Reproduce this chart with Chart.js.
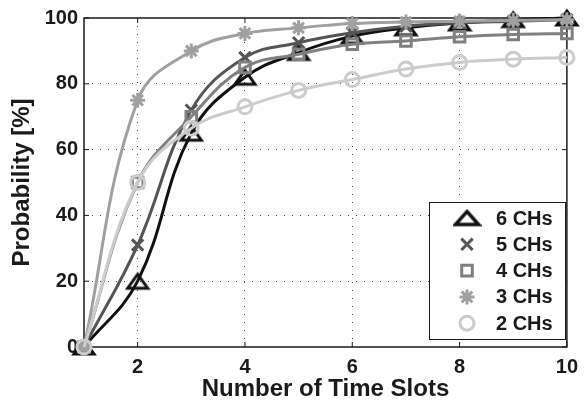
<!DOCTYPE html>
<html><head><meta charset="utf-8">
<script src="https://cdn.jsdelivr.net/npm/chart.js@4/dist/chart.umd.min.js"></script>
<style>html,body{margin:0;padding:0;background:#fff}canvas{display:block}</style>
</head><body>
<canvas id="c" width="586" height="405"></canvas>
<script>
// ---- data ----
const timeSlots = [1, 2, 3, 4, 5, 6, 7, 8, 9, 10];
const ch6 = [0, 20, 65, 82, 89.5, 94.5, 97, 98.5, 99.5, 100];
const ch5 = [0, 31, 72, 88, 92.5, 95.5, 97.5, 98.5, 99, 99.5];
const ch4 = [0, 50, 70, 85, 89, 92, 93, 94.3, 95, 95.3];
const ch3 = [0, 75, 90, 95.3, 97, 98.3, 98.8, 99, 99.3, 99.5];
const ch2 = [0, 50, 66.5, 73, 78, 81.3, 84.5, 86.5, 87.5, 88];
const seriesLabels = ['6 CHs', '5 CHs', '4 CHs', '3 CHs', '2 CHs'];
const xTicks = [2, 4, 6, 8, 10];
const yTicks = [0, 20, 40, 60, 80, 100];

const FONT = "'Liberation Sans', Arial, Helvetica, sans-serif";
const TXT = '#1a1a1a';

function makeTriangle(w, h, color, lw) {
  const pad = 3;
  const c = document.createElement('canvas');
  c.width = w + 2 * pad; c.height = h + 2 * pad;
  const g = c.getContext('2d');
  g.strokeStyle = color; g.lineWidth = lw; g.lineJoin = 'miter';
  g.beginPath();
  g.moveTo(pad + w / 2, pad);
  g.lineTo(pad + w, pad + h);
  g.lineTo(pad, pad + h);
  g.closePath();
  g.stroke();
  return c;
}
const triChart = makeTriangle(20, 14, '#111', 3);
const triLegend = makeTriangle(23, 13, '#111', 3.4);

const styles = [
  {color: '#111111', pointStyle: triChart, radius: 10, legendStyle: triLegend},
  {color: '#555555', pointStyle: 'crossRot', radius: 8},
  {color: '#808080', pointStyle: 'rect', radius: 7.5},
  {color: '#a0a0a0', pointStyle: 'star', radius: 7.5},
  {color: '#cccccc', pointStyle: 'circle', radius: 7}
];
const seriesData = [ch6, ch5, ch4, ch3, ch2];

const datasets = seriesData.map((d, i) => ({
  label: seriesLabels[i],
  data: d,
  borderColor: styles[i].color,
  backgroundColor: 'rgba(0,0,0,0)',
  borderWidth: 3,
  tension: 0.4,
  pointStyle: styles[i].pointStyle,
  pointRadius: styles[i].radius,
  pointBorderWidth: 3,
  pointBorderColor: styles[i].color,
  pointBackgroundColor: 'rgba(0,0,0,0)',
  clip: false,
  order: 4 - i
}));

const boxPlugin = {
  id: 'box',
  beforeDatasetsDraw(chart) {
    const {ctx, chartArea: a, scales: {x, y}} = chart;
    ctx.save();
    ctx.strokeStyle = TXT;
    ctx.lineWidth = 1.5;
    ctx.strokeRect(a.left, a.top, a.right - a.left, a.bottom - a.top);
    ctx.lineWidth = 1;
    ctx.beginPath();
    xTicks.forEach(v => {
      const px = x.getPixelForValue(v);
      ctx.moveTo(px, a.bottom); ctx.lineTo(px, a.bottom - 5);
      ctx.moveTo(px, a.top); ctx.lineTo(px, a.top + 5);
    });
    yTicks.forEach(v => {
      const py = y.getPixelForValue(v);
      ctx.moveTo(a.left, py); ctx.lineTo(a.left + 5, py);
      ctx.moveTo(a.right, py); ctx.lineTo(a.right - 5, py);
    });
    ctx.stroke();
    ctx.restore();
  }
};

const legendPlugin = {
  id: 'boxLegend',
  afterDraw(chart) {
    const {ctx} = chart;
    const bx = 429, by = 202, bw = 136, bh = 137;
    ctx.save();
    ctx.fillStyle = '#fff';
    ctx.fillRect(bx, by, bw, bh);
    ctx.strokeStyle = TXT;
    ctx.lineWidth = 1;
    ctx.strokeRect(bx + 0.5, by + 0.5, bw, bh);
    const rowY0 = 218, rowStep = 26.3;
    seriesLabels.forEach((lab, i) => {
      const cy = rowY0 + i * rowStep;
      const st = styles[i];
      ctx.strokeStyle = st.color;
      ctx.fillStyle = 'rgba(0,0,0,0)';
      ctx.lineWidth = 3;
      Chart.helpers.drawPoint(ctx, {
        pointStyle: st.legendStyle || st.pointStyle,
        radius: st.radius,
        borderWidth: 3,
        rotation: 0
      }, 467, cy);
      ctx.fillStyle = TXT;
      ctx.font = 'bold 20px ' + FONT;
      ctx.textBaseline = 'middle';
      ctx.textAlign = 'left';
      ctx.fillText(lab, 496, cy + 1);
    });
    ctx.restore();
  }
};

new Chart(document.getElementById('c'), {
  type: 'line',
  data: {labels: timeSlots, datasets},
  options: {
    responsive: false,
    animation: false,
    layout: {padding: {top: 16, right: 12, left: 0, bottom: 0}},
    plugins: {legend: {display: false}, tooltip: {enabled: false}},
    scales: {
      x: {
        type: 'linear', min: 1, max: 10,
        afterBuildTicks(axis) { axis.ticks = xTicks.map(v => ({value: v})); },
        afterFit(scale) { scale.height = 58; },
        grid: {
          color: c => (c.tick && c.tick.value === 10) ? 'rgba(0,0,0,0)' : '#444',
          lineWidth: 1, drawTicks: false
        },
        border: {display: false, dash: [1, 7]},
        ticks: {font: {family: FONT, size: 20, weight: 'bold'}, color: TXT, padding: 8, maxRotation: 0},
        title: {display: true, text: 'Number of Time Slots', font: {family: FONT, size: 24, weight: 'bold'}, color: TXT, padding: {top: 0, bottom: 1}}
      },
      y: {
        min: 0, max: 100,
        afterBuildTicks(axis) { axis.ticks = yTicks.map(v => ({value: v})); },
        afterFit(scale) { scale.width = 84; },
        grid: {
          color: c => (c.tick && (c.tick.value === 0 || c.tick.value === 100)) ? 'rgba(0,0,0,0)' : '#444',
          lineWidth: 1, drawTicks: false
        },
        border: {display: false, dash: [1, 7]},
        ticks: {font: {family: FONT, size: 20, weight: 'bold'}, color: TXT, padding: 6},
        title: {display: true, text: 'Probability [%]', font: {family: FONT, size: 24, weight: 'bold'}, color: TXT, padding: {top: 8, bottom: 0}}
      }
    }
  },
  plugins: [boxPlugin, legendPlugin]
});
</script>
</body></html>
